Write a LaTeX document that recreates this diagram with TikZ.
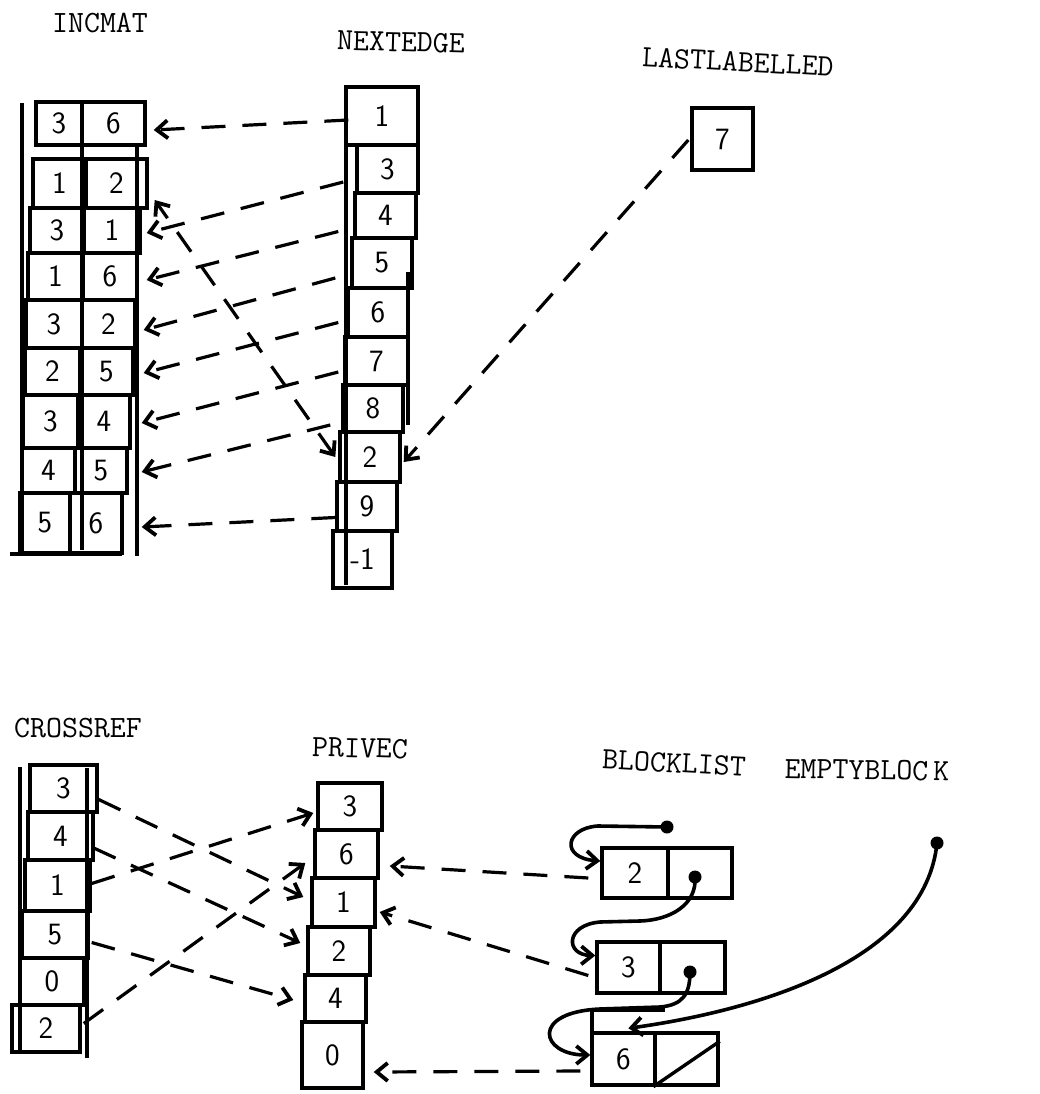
\documentclass[tikz,border=0pt]{standalone}
\usepackage{fontspec}
\usetikzlibrary{arrows.meta,calc}
\newcommand\mycell[6]{\node[cellbox, minimum width={#4-#2}, minimum height={#5-#3}] (#1) at ({(#2+#4)/2},{(#3+#5)/2}) {#6};}
\begin{document}
\begin{tikzpicture}[x=1pt,y=-1pt,
  cellbox/.style={draw, line width=3.4pt, inner sep=0pt, font=\fontsize{31}{31}\selectfont\sffamily},
  lbl/.style={font=\fontsize{31}{31}\selectfont\ttfamily, inner sep=0pt},
  rule/.style={line width=3.4pt},
  tip/.tip={Straight Barb[length=11pt,width=18pt,line width=3.8pt]},
  dptr/.style={line width=3.2pt, dash pattern=on 24pt off 17pt, -tip},
  dboth/.style={line width=3.2pt, dash pattern=on 24pt off 17pt, tip-tip},
  sptr/.style={line width=3.6pt, -tip},
  dot/.style={circle, fill, inner sep=0pt, minimum size=13pt}]
\fill[white] (0,0) rectangle (1040,1094);
\useasboundingbox (0,0) rectangle (1040,1094);

% labels
\node[lbl] (tInc) at (100,23) {INCMAT};
\node[lbl, rotate=-1.5] (tNext) at (401,42) {NEXTEDGE};
\node[lbl, rotate=-3] (tLast) at (738,62) {LASTLABELLED};
\node[lbl] (tCross) at (78,728) {CROSSREF};
\node[lbl, rotate=-1.5] (tPri) at (360,748) {PRIVEC};
\node[lbl, rotate=-3] (tBlock) at (674,763) {BLOCKLIST};
\node[lbl, rotate=-1] (tEmpty) at (867,770) {EMPTYBLOC\kern5pt K};

% INCMAT
\mycell{r0a}{36}{102}{82}{145}{3}
\mycell{r0b}{82}{102}{145}{145}{6}
\mycell{r1a}{33}{159}{86}{208}{1}
\mycell{r1b}{86}{159}{147}{208}{2}
\mycell{r2a}{30}{208}{84}{253}{3}
\mycell{r2b}{84}{208}{140}{253}{1}
\mycell{r3a}{28}{253}{83}{300}{1}
\mycell{r3b}{83}{253}{137}{300}{6}
\mycell{r4a}{26}{300}{82}{348}{3}
\mycell{r4b}{82}{300}{135}{348}{2}
\mycell{r5a}{25}{348}{80}{395}{2}
\mycell{r5b}{80}{348}{133}{395}{5}
\mycell{r6a}{23}{395}{78}{448}{3}
\mycell{r6b}{78}{395}{130}{448}{4}
\mycell{r7a}{22}{448}{75}{493}{4}
\mycell{r7b}{75}{448}{127}{493}{5}
\mycell{r8a}{20}{493}{70}{553}{5}
\mycell{r8b}{70}{493}{122}{553}{6}
\draw[rule] (22,103) -- (22,553);
\draw[rule] (137,147) -- (137,556);
\draw[rule] (10,554) -- (122,554);
\draw[rule] (82,105) -- (82,550);

% NEXTEDGE
\mycell{n1}{346}{87}{418}{145}{1}
\mycell{n3}{357}{145}{418}{193}{3}
\mycell{n4}{355}{193}{416}{238}{4}
\mycell{n5}{352}{238}{412}{288}{5}
\mycell{n6}{348}{288}{408}{337}{6}
\mycell{n7}{345}{337}{408}{385}{7}
\mycell{n8}{343}{385}{403}{432}{8}
\mycell{n2}{340}{432}{400}{482}{2}
\mycell{n9}{337}{482}{397}{531}{9}
\mycell{nm}{333}{531}{392}{588}{-1}
\draw[rule] (346,147) -- (346,585);
\draw[rule] (408,272) -- (408,425);

% LASTLABELLED
\mycell{ll}{692}{108}{753}{170}{7}

% NEXTEDGE -> INCMAT
\draw[dptr] ($(n1.west)+(4,4)$) -- ($(r0b.east)+(7,6.5)$);
\draw[dptr] ($(n3.west)+(-12,13)$) -- ($(r2b.east)+(5,2.5)$);
\draw[dptr] ($(n4.west)+(-15,16)$) -- ($(r3b.east)+(8,3.5)$);
\draw[dptr] ($(n5.west)+(-15,15)$) -- ($(r4b.east)+(7,6)$);
\draw[dptr] ($(n6.west)+(-8,10)$) -- ($(r5b.east)+(9,1.5)$);
\draw[dptr] ($(n7.west)+(-5,11)$) -- ($(r6b.east)+(10,1.5)$);
\draw[dptr] ($(n8.west)+(-11,16.5)$) -- ($(r7b.east)+(13,1.5)$);
\draw[dptr] ($(n9.west)+(0,11)$) -- ($(r8b.east)+(18,4)$);
\draw[dboth] ($(n2.west)+(-3,0)$) -- ($(r1b.east)+(6,16.5)$);
\draw[dptr] ($(ll.west)+(-2,1)$) -- ($(n2.east)+(2,5)$);

% CROSSREF
\mycell{c1}{30}{765}{97}{812}{3}
\mycell{c2}{28}{812}{93}{860}{4}
\mycell{c3}{25}{860}{90}{911}{1}
\mycell{c4}{22}{911}{88}{958}{5}
\mycell{c5}{20}{958}{84}{1005}{0}
\mycell{c6}{12}{1005}{80}{1052}{2}
\draw[rule] (20,767) -- (20,1052);
\draw[rule] (87,768) -- (87,1058);

% PRIVEC
\mycell{p1}{318}{783}{382}{830}{3}
\mycell{p2}{315}{830}{378}{878}{6}
\mycell{p3}{312}{878}{375}{927}{1}
\mycell{p4}{308}{927}{370}{975}{2}
\mycell{p5}{305}{975}{366}{1022}{4}
\mycell{p6}{302}{1022}{363}{1088}{0}

% CROSSREF -> PRIVEC
\draw[dptr] ($(c1.east)+(0,11)$) -- ($(p3.west)+(-7,-5.5)$);
\draw[dptr] ($(c2.east)+(-1,12)$) -- ($(p4.west)+(-6,-8)$);
\draw[dptr] ($(c3.east)+(0,-2)$) -- ($(p1.west)+(-3,6.5)$);
\draw[dptr] ($(c4.east)+(2,8)$) -- ($(p5.west)+(-10,1.5)$);
\draw[dptr] ($(c6.east)+(2,-5)$) -- ($(p2.west)+(-8,9)$);

% BLOCKLIST blocks
\mycell{b2a}{602}{848}{668}{898}{2}
\mycell{b2b}{668}{848}{732}{898}{}
\mycell{b3a}{597}{942}{660}{993}{3}
\mycell{b3b}{660}{942}{725}{993}{}
\mycell{b6a}{592}{1033}{655}{1085}{6}
\mycell{b6b}{655}{1033}{718}{1085}{}
\draw[rule] (592,1010) -- (665,1010);
\draw[rule] (592,1010) -- (592,1033);
\draw[rule] (b6b.south west) -- ($(b6b.north east)+(0,10)$);

\node[dot] (hb) at (667,827) {};
\node[dot] (eb) at (937,843) {};
\node[dot] (d2) at (695,877) {};
\node[dot] (d3) at (690,972) {};

\draw[sptr] (hb.center) -- (598,826) .. controls (565,828) and (560,858) .. ($(b2a.west)+(0,-12)$);
\draw[sptr] (d2.center) .. controls (697,905) and (670,920) .. (640,921) -- (600,922) .. controls (565,925) and (565,955) .. ($(b3a.west)+(0,-12)$);
\draw[sptr] (d3.center) .. controls (690,995) and (682,1005) .. (660,1007) -- (600,1009) .. controls (530,1012) and (540,1055) .. ($(b6a.west)+(0,-4)$);
\draw[sptr] (eb.center) .. controls (925,960) and (760,1010) .. ($(b6b.north west)+(-25,-3)$);

% BLOCKLIST -> PRIVEC
\draw[dptr] ($(b2a.west)+(-12,5)$) -- ($(p2.east)+(10,12)$);
\draw[dptr] ($(b3a.west)+(-7,8)$) -- ($(p3.east)+(3,9.5)$);
\draw[dptr] ($(b6a.west)+(-10,12)$) -- ($(p6.east)+(9,17)$);
\end{tikzpicture}
\end{document}
